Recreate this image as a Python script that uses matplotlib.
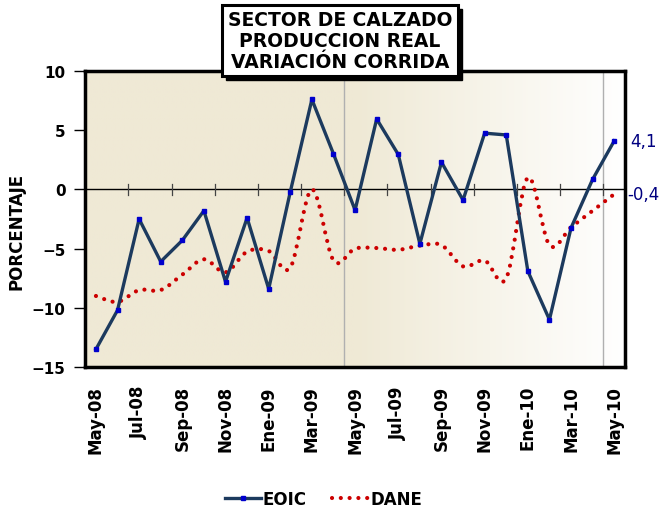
import numpy as np
import matplotlib
matplotlib.use("Agg")
import matplotlib.pyplot as plt
from matplotlib.path import Path
from matplotlib.patches import PathPatch, Rectangle
from matplotlib.lines import Line2D

meses = ['May-08', 'Jun-08', 'Jul-08', 'Ago-08', 'Sep-08', 'Oct-08', 'Nov-08', 'Dic-08',
         'Ene-09', 'Feb-09', 'Mar-09', 'Abr-09', 'May-09', 'Jun-09', 'Jul-09', 'Ago-09',
         'Sep-09', 'Oct-09', 'Nov-09', 'Dic-09', 'Ene-10', 'Feb-10', 'Mar-10', 'Abr-10',
         'May-10']
eoic = [-13.5, -10.2, -2.5, -6.1, -4.3, -1.8, -7.8, -2.4, -8.4, -0.2, 7.6, 3.0, -1.75,
        5.95, 2.95, -4.6, 2.3, -0.9, 4.75, 4.6, -6.9, -11.0, -3.25, 0.85, 4.1]
dane = [-9.0, -9.5, -8.5, -8.5, -7.2, -5.9, -7.0, -5.25, -5.2, -6.6, 0.0, -6.0, -5.0,
        -4.95, -5.1, -4.75, -4.7, -6.5, -6.0, -7.5, 1.0, -4.7, -3.2, -1.8, -0.4]
etiquetas_x = ['May-08', 'Jul-08', 'Sep-08', 'Nov-08', 'Ene-09', 'Mar-09', 'May-09',
               'Jul-09', 'Sep-09', 'Nov-09', 'Ene-10', 'Mar-10', 'May-10']

NAVY = '#1c3a5e'
RED = '#cc0000'


def smooth_path(xs, ys):
    # Excel-style smoothed line: cubic bezier segments through every point
    n = len(xs)
    verts = [(xs[0], ys[0])]
    codes = [Path.MOVETO]
    for i in range(n - 1):
        x0, y0 = xs[max(i - 1, 0)], ys[max(i - 1, 0)]
        x1, y1 = xs[i], ys[i]
        x2, y2 = xs[i + 1], ys[i + 1]
        x3, y3 = xs[min(i + 2, n - 1)], ys[min(i + 2, n - 1)]
        c1 = (x1 + (x2 - x0) / 6, y1 + (y2 - y0) / 6)
        c2 = (x2 - (x3 - x1) / 6, y2 - (y3 - y1) / 6)
        verts += [c1, c2, (x2, y2)]
        codes += [Path.CURVE4] * 3
    return Path(verts, codes)


fig = plt.figure(figsize=(6.6, 5.1), dpi=100)
ax = fig.add_axes([0.129, 0.2784, 0.818, 0.5804])

x = np.arange(len(meses))

# background gradient tan -> white
t = np.linspace(0, 1, 300)
g = np.clip((t - 0.5) / 0.5, 0, 1)[None, :, None]
tan = np.array([239, 233, 213]) / 255
img = tan * (1 - g) + np.ones(3) * g
ax.imshow(img, extent=(-0.5, 24.5, -15, 10), aspect='auto', zorder=0)

ax.axvline(11.5, color='#b0b0b0', lw=1, zorder=1)
ax.axvline(23.5, color='#b0b0b0', lw=1, zorder=1)
ax.axhline(0, color='black', lw=1, zorder=2)
for xb in np.arange(1.5, 24, 2):
    ax.plot([xb, xb], [-0.45, 0.45], color='#444444', lw=0.9, zorder=2)

ax.add_patch(PathPatch(smooth_path(x, dane), fill=False, edgecolor=RED, lw=3,
                       linestyle=(0, (0.01, 2.1)), capstyle='round', zorder=3))
ax.plot(x, eoic, color=NAVY, lw=2.4, marker='s', markersize=3.2,
        markerfacecolor='#0000cc', markeredgecolor='#0000cc', zorder=4)

ax.set_xlim(-0.5, 24.5)
ax.set_ylim(-15, 10)
ax.set_yticks([-15, -10, -5, 0, 5, 10])
ax.set_xticks(x[::2])
ax.set_xticklabels(etiquetas_x, rotation=90, fontweight='bold', fontsize=12)
ax.tick_params(axis='x', length=0, pad=13)
ax.tick_params(axis='y', direction='out', length=8, width=1, pad=6, labelsize=11)
for lab in ax.get_yticklabels():
    lab.set_fontweight('bold')
for s in ax.spines.values():
    s.set_linewidth(2.5)

ax.set_ylabel('PORCENTAJE', fontweight='bold', fontsize=12)
ax.yaxis.set_label_coords(-0.11, 0.46)

ax.text(24.75, eoic[-1], '4,1', color='#000080', fontsize=12, va='center', ha='left',
        clip_on=False)
ax.text(24.6, dane[-1], '-0,4', color='#000080', fontsize=12, va='center', ha='left',
        clip_on=False)

# title box with shadow
bx, by, bw, bh = 222 / 660, 1 - 77 / 510, 236 / 660, 71 / 510
fig.add_artist(Rectangle((bx + 4 / 660, by - 4 / 510), bw, bh, transform=fig.transFigure,
                         facecolor='black', edgecolor='black', zorder=5))
fig.add_artist(Rectangle((bx, by), bw, bh, transform=fig.transFigure,
                         facecolor='white', edgecolor='black', lw=2.2, zorder=6))
fig.text(bx + bw / 2, by + bh / 2, 'SECTOR DE CALZADO\nPRODUCCION REAL\nVARIACIÓN CORRIDA',
         ha='center', va='center', fontsize=13.5, fontweight='bold', linespacing=1.1,
         zorder=7)

h1 = Line2D([], [], color=NAVY, lw=2.4, marker='s', markersize=3.2,
            markerfacecolor='#0000cc', markeredgecolor='#0000cc')
h2 = Line2D([], [], color=RED, lw=3, linestyle=(0, (0.01, 2.1)), dash_capstyle='round')
fig.legend([h1, h2], ['EOIC', 'DANE'], loc='center', bbox_to_anchor=(0.49, 0.02),
           ncol=2, frameon=False, handlelength=2.2, handletextpad=0.1, columnspacing=1.5,
           prop={'weight': 'bold', 'size': 12})

fig.savefig('out.png', dpi=100)
